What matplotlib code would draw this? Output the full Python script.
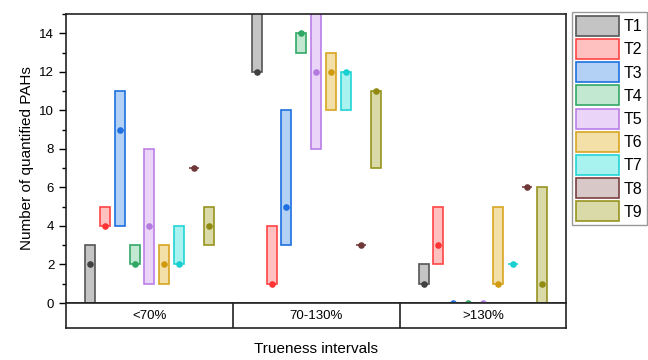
import matplotlib
matplotlib.use("Agg")
import matplotlib.pyplot as plt
import numpy as np
from matplotlib.patches import Patch
from matplotlib.ticker import MultipleLocator

plt.rcParams['font.family'] = ['Liberation Sans', 'DejaVu Sans']

groups = ["<70%", "70-130%", ">130%"]
series = ["T1", "T2", "T3", "T4", "T5", "T6", "T7", "T8", "T9"]

# per series: values for the three trueness intervals
box_low = [
    [0, 12, 1],   # T1
    [4, 1, 2],    # T2
    [4, 3, 0],    # T3
    [2, 13, 0],   # T4
    [1, 8, 0],    # T5
    [1, 10, 1],   # T6
    [2, 10, 2],   # T7
    [7, 3, 6],    # T8
    [3, 7, 0],    # T9
]
box_high = [
    [3, 16, 2],
    [5, 4, 5],
    [11, 10, 0],
    [3, 14, 0],
    [8, 16, 0],
    [3, 13, 5],
    [4, 12, 2],
    [7, 3, 6],
    [5, 11, 6],
]
point_val = [
    [2, 12, 1],
    [4, 1, 3],
    [9, 5, 0],
    [2, 14, 0],
    [4, 12, 0],
    [2, 12, 1],
    [2, 12, 2],
    [7, 3, 6],
    [4, 11, 1],
]

edge_colors = ["#555555", "#FF4444", "#1E6FE0", "#33A866", "#BB7FE6",
               "#D9A521", "#22D4D4", "#7A3F3F", "#979320"]
fill_colors = ["#C4C4C4", "#FFC0C0", "#B3D0F5", "#C2E8D2", "#EAD5F8",
               "#F3E0A8", "#A8F2F0", "#D9C8C8", "#DADAA8"]
dot_colors = ["#404040", "#FF3333", "#1E6FE0", "#2EA862", "#B57AE0",
              "#D09B10", "#18D0D0", "#6E3838", "#8F8A10"]

fig = plt.figure(figsize=(6.48, 3.6), dpi=100)
ax = fig.add_axes([0.1019, 0.1583, 0.772, 0.8028])

x = np.arange(len(groups))
step = 0.089
width = 0.06
for i, name in enumerate(series):
    xs = x + (i - 4) * step
    lo = np.array(box_low[i], dtype=float)
    hi = np.array(box_high[i], dtype=float)
    ax.bar(xs, hi - lo, bottom=lo, width=width, color=fill_colors[i],
           edgecolor=edge_colors[i], linewidth=1.2, zorder=2)
    ax.scatter(xs, point_val[i], s=14, color=dot_colors[i], zorder=3)

ax.set_xlim(-0.5, 2.5)
ax.set_ylim(0, 15)
ax.set_xticks([])
ax.yaxis.set_major_locator(MultipleLocator(2))
ax.yaxis.set_minor_locator(MultipleLocator(1))
ax.tick_params(axis='y', which='major', length=5, width=1, labelsize=9.5)
ax.tick_params(axis='y', which='minor', length=3, width=1)
for sp in ax.spines.values():
    sp.set_linewidth(1.2)
    sp.set_color("#222222")
ax.set_ylabel("Number of quantified PAHs", fontsize=11)

# category row under the axes
cax = fig.add_axes([0.1019, 0.0889, 0.772, 0.0694])
cax.set_xlim(-0.5, 2.5)
cax.set_ylim(0, 1)
cax.set_xticks([])
cax.set_yticks([])
for sp in cax.spines.values():
    sp.set_linewidth(1.2)
    sp.set_color("#222222")
for b in [0.5, 1.5]:
    cax.axvline(b, color="#222222", linewidth=1.2)
for xi, g in zip(x, groups):
    cax.text(xi, 0.5, g, ha='center', va='center', fontsize=9.5)
cax.set_xlabel("Trueness intervals", fontsize=11, labelpad=10)

handles = [Patch(facecolor=fill_colors[i], edgecolor=edge_colors[i],
                 linewidth=1.2, label=series[i]) for i in range(len(series))]
leg = fig.legend(handles=handles, loc='upper left',
                 bbox_to_anchor=(0.883, 0.967), borderaxespad=0,
                 fontsize=11.5, handlelength=2.65, handleheight=1.55,
                 handletextpad=0.35, labelspacing=0.2, borderpad=0.25,
                 fancybox=False, edgecolor="#999999", framealpha=1)
leg.get_frame().set_linewidth(1.0)

fig.savefig("out.png", dpi=100)
